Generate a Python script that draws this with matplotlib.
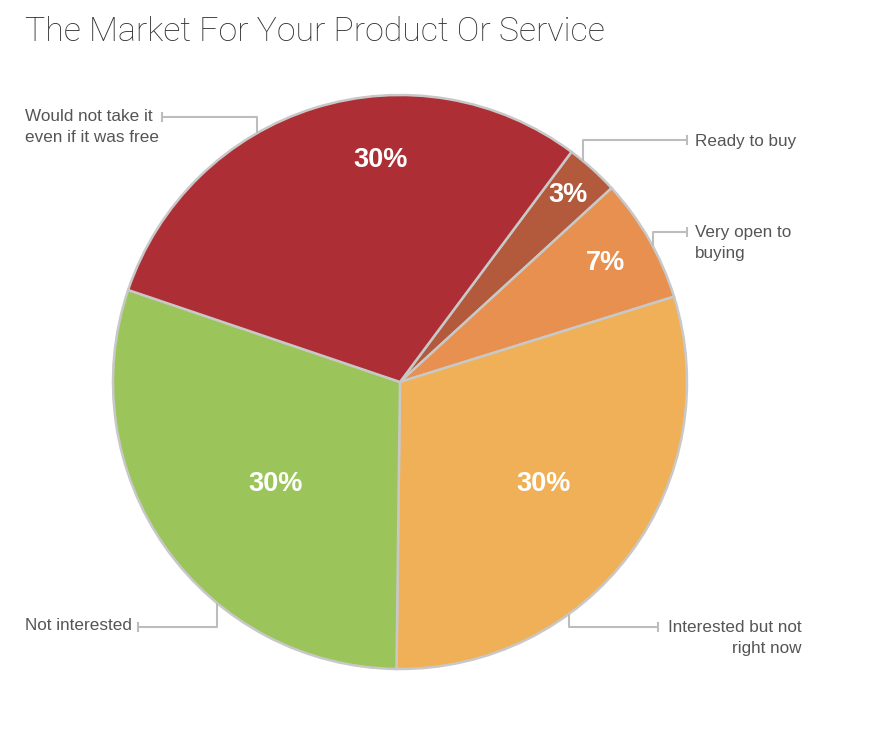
import numpy as np
import matplotlib.pyplot as plt

# data
labels = ['Ready to buy', 'Very open to\nbuying', 'Interested but not\nright now',
          'Not interested', 'Would not take it\neven if it was free']
values = [3, 7, 30, 30, 30]
colors = ['#B25A3B', '#E8904F', '#F0B057', '#9BC55A', '#AE2E35']

# layout (pixel coords, y measured from top)
W, H = 885, 729
cx, cy, R = 400, 382, 287
pct_pos = [(48.1, 251), (30.1, 237), (-35.5, 176), (219.2, 161), (94.9, 223)]  # angle, distance
anchor_ang = [50.5, 28.3, -53.9, 230.3, 119.9]
label_y = [140, 232, 627, 627, 117]
text_y = [141, 232, 628, 625, 116]
tick_x = [687, 687, 658, 138, 162]
text_x = [695, 695, 802, 25, 25]
text_ha = ['left', 'left', 'right', 'left', 'left']
line_gap = 21

fig = plt.figure(figsize=(W / 100, H / 100), dpi=100)
ax = fig.add_axes([0, 0, 1, 1])

ax.pie(values, colors=colors, startangle=53.3, counterclock=False,
       center=(cx, H - cy), radius=R,
       wedgeprops=dict(edgecolor='#C8C8C8', linewidth=1.8))

ax.set_xlim(0, W)
ax.set_ylim(0, H)
ax.set_aspect('equal')
ax.axis('off')

# percent labels
for v, (a, d) in zip(values, pct_pos):
    x = cx + d * np.cos(np.radians(a))
    y = (H - cy) + d * np.sin(np.radians(a))
    ax.text(x, y, f'{v}%', color='white', fontsize=19.5, fontweight='bold',
            ha='center', va='center', family='Liberation Sans')

# leader lines + labels
line_c = '#BDBDBD'
for lab, a, ly, ty, tx, xt, ha in zip(labels, anchor_ang, label_y, text_y, tick_x, text_x, text_ha):
    ax_x = cx + R * np.cos(np.radians(a))
    ax_y = (H - cy) + R * np.sin(np.radians(a))
    yl = H - ly
    ax.plot([ax_x, ax_x, tx], [ax_y, yl, yl], color=line_c, lw=1.5, solid_capstyle='butt')
    ax.plot([tx, tx], [yl - 4, yl + 4], color=line_c, lw=1.5)
    for i, part in enumerate(lab.split('\n')):
        ax.text(xt, H - ty - i * line_gap, part, ha=ha, va='center',
                fontsize=12.3, color='#555555', family='Liberation Sans')

fig.text(25 / W, 1 - 32 / H, 'The Market For Your Product Or Service', fontsize=24.4,
         color='#333333', ha='left', va='center', family='Roboto', fontweight='light')

fig.savefig('out.png', dpi=100, facecolor='white')
